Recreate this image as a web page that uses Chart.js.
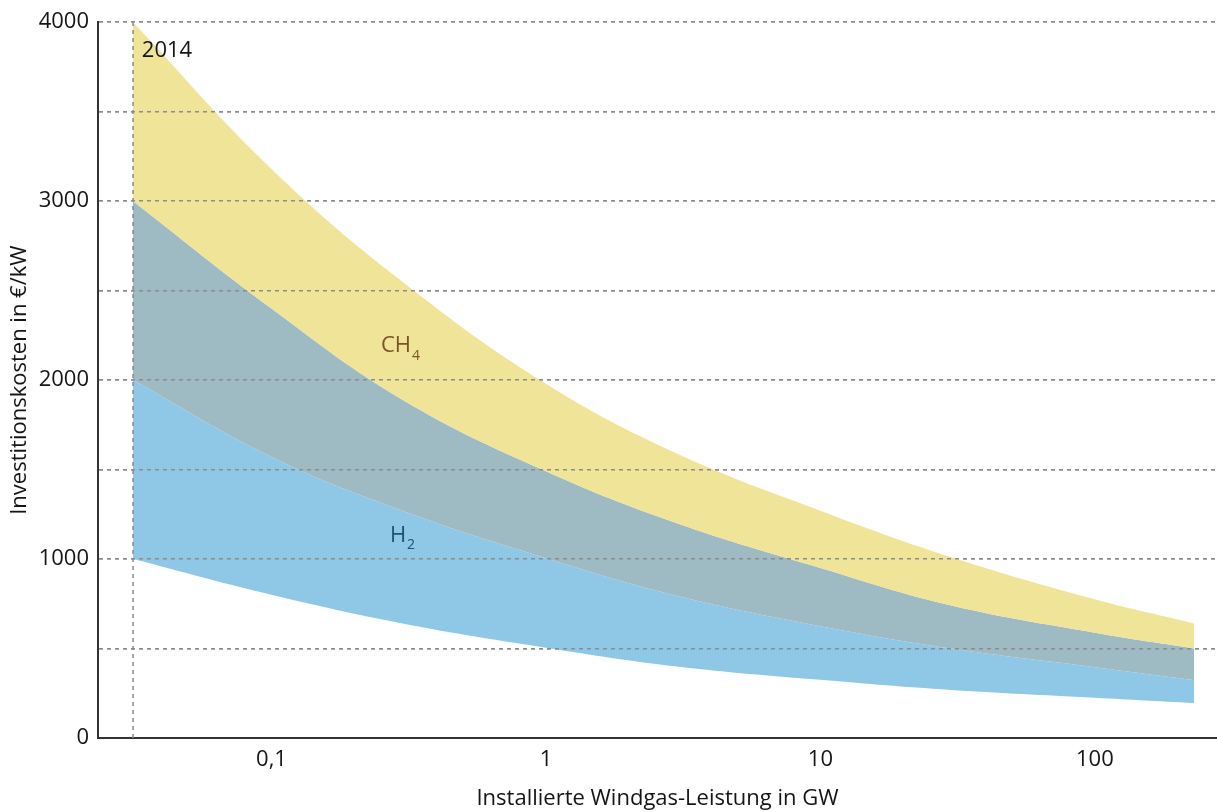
<!DOCTYPE html>
<html lang="de">
<head>
<meta charset="UTF-8">
<title>Investitionskosten Windgas</title>
<style>
  body { margin: 0; background: #fff; }
  #wrap { width: 1217px; height: 812px; }
</style>
</head>
<body>
<div id="wrap"><canvas id="grafico"></canvas></div>

<script src="https://cdn.jsdelivr.net/npm/chart.js"></script>
<script>
// installierte Windgas-Leistung in GW (x-Werte der Kurven)
const leistung = [0.0313, 0.1, 0.3, 1, 3, 10, 30, 100, 230];
// Bandgrenzen in €/kW
const ch4Oben  = [4000, 3180, 2550, 1980, 1590, 1270, 1010, 775, 640];
const h2Oben   = [3000, 2400, 1890, 1490, 1200, 950, 740, 588, 500];
const ch4Unten = [2000, 1570, 1270, 1005, 795, 625, 500, 396, 324];
const h2Unten  = [1000, 800, 640, 505, 400, 325, 268, 225, 195];

// Achsen
const xTicks = [0.1, 1, 10, 100];
const xTickLabels = ['0,1', '1', '10', '100'];
const yMax = 4000;
const yStep = 500;

const gelb = '#f0e499';
const grau = '#9ebac3';
const blau = '#8ec8e6';

const punkte = werte => werte.map((v, i) => ({ x: leistung[i], y: v }));

Chart.defaults.font.family = '"Open Sans", "Noto Sans", sans-serif';
Chart.defaults.font.size = 22;
Chart.defaults.color = '#151515';

// Gitter über die Flächen legen + Beschriftungen im Diagramm
const extras = {
    id: 'extras',
    afterDatasetsDraw(chart) {
        chart.scales.y.drawGrid(chart.chartArea);
        const { ctx } = chart;
        const x = chart.scales.x, y = chart.scales.y;
        ctx.save();
        ctx.textBaseline = 'middle';
        ctx.textAlign = 'left';

        ctx.fillStyle = '#151515';
        ctx.font = '22px "Open Sans", sans-serif';
        ctx.fillText('2014', x.getPixelForValue(0.0337), y.getPixelForValue(3838));

        // CH4
        let px = x.getPixelForValue(0.2506), py = y.getPixelForValue(2192);
        ctx.fillStyle = '#7a5326';
        ctx.font = '22px "Open Sans", sans-serif';
        ctx.fillText('CH', px, py);
        let w = ctx.measureText('CH').width;
        ctx.font = '14px "Open Sans", sans-serif';
        ctx.fillText('4', px + w + 1, py + 10);

        // H2
        px = x.getPixelForValue(0.270); py = y.getPixelForValue(1133);
        ctx.fillStyle = '#1f4f78';
        ctx.font = '22px "Open Sans", sans-serif';
        ctx.fillText('H', px, py);
        w = ctx.measureText('H').width;
        ctx.font = '14px "Open Sans", sans-serif';
        ctx.fillText('2', px + w + 1, py + 10);
        ctx.restore();
    }
};

const band = (label, werte, farbe, fill) => ({
    label: label,
    data: punkte(werte),
    backgroundColor: farbe,
    borderWidth: 0,
    pointRadius: 0,
    tension: 0.4,
    fill: fill
});

new Chart(document.getElementById('grafico'), {
    type: 'line',
    data: {
        datasets: [
            {
                label: '2014',
                data: [{ x: leistung[0], y: 0 }, { x: leistung[0], y: yMax }],
                borderColor: '#8c8c8c',
                borderWidth: 1.5,
                borderDash: [4, 4],
                pointRadius: 0,
                fill: false
            },
            band('CH4 oben', ch4Oben, gelb, '+1'),
            band('H2 oben', h2Oben, grau, '+1'),
            band('CH4 unten', ch4Unten, blau, '+1'),
            band('H2 unten', h2Unten, 'transparent', false)
        ]
    },
    options: {
        responsive: true,
        maintainAspectRatio: false,
        animation: false,
        layout: { padding: { top: 21, right: 0, left: 0, bottom: 0 } },
        plugins: {
            legend: { display: false },
            tooltip: { enabled: false }
        },
        scales: {
            x: {
                type: 'logarithmic',
                min: 0.02333,
                max: 278.6,
                afterBuildTicks: scale => { scale.ticks = xTicks.map(v => ({ value: v })); },
                afterFit: scale => { scale.height = 74; },
                ticks: {
                    autoSkip: false,
                    maxRotation: 0,
                    padding: 9,
                    callback: (v) => xTickLabels[xTicks.indexOf(v)] ?? ''
                },
                grid: { display: false, drawTicks: false },
                border: { display: true, color: '#333', width: 2 },
                title: {
                    display: true,
                    text: 'Installierte Windgas-Leistung in GW',
                    padding: { top: 0, bottom: 0 },
                    font: { size: 22 }
                }
            },
            y: {
                min: 0,
                max: yMax,
                afterFit: scale => { scale.width = 98; },
                ticks: {
                    stepSize: yStep,
                    padding: 9,
                    callback: v => (v % 1000 === 0 ? v : '')
                },
                grid: {
                    drawTicks: false,
                    lineWidth: 1.5,
                    color: c => (c.tick && c.tick.value === 0 ? 'rgba(0,0,0,0)' : '#8c8c8c')
                },
                border: { display: true, color: '#333', width: 2, dash: [4, 4] },
                title: {
                    display: true,
                    text: 'Investitionskosten in €/kW',
                    padding: { top: 7, bottom: 0 },
                    font: { size: 22 }
                }
            }
        }
    },
    plugins: [extras]
});
</script>
</body>
</html>
